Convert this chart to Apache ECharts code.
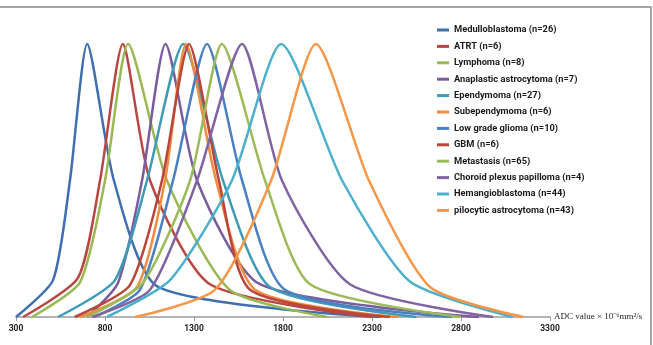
<!DOCTYPE html>
<html><head><meta charset="utf-8">
<script src="https://cdn.jsdelivr.net/npm/echarts@6/dist/echarts.min.js"></script>
<style>html,body{margin:0;padding:0;background:#fff}#c{width:653px;height:345px}</style>
</head><body><div id="c"></div>
<script>
// ADC value, relative height (peak = 1)
const medulloblastoma = [[300,0],[508,0.135],[603,0.5],[700,1],[850,0.5],[1098,0.11],[2350,0]];
const atrt            = [[340,0],[648,0.143],[772,0.5],[900,1],[1053,0.5],[1390,0.12],[2300,0]];
const lymphoma        = [[390,0],[660,0.128],[800,0.5],[930,1],[1148,0.5],[1500,0.1],[2050,0]];
const anaplastic      = [[700,0],[873,0.125],[1008,0.5],[1140,1],[1317,0.5],[1670,0.12],[2900,0]];
const ependymoma      = [[536,0],[856,0.135],[1036,0.5],[1240,1],[1463,0.5],[1727,0.11],[2550,0]];
const subependymoma   = [[660,0],[980,0.11],[1137,0.5],[1255,1],[1424,0.5],[1643,0.1],[2450,0]];
const lowGradeGlioma  = [[740,0],[997,0.1],[1182,0.5],[1373,1],[1570,0.5],[1811,0.1],[2750,0]];
const gbm             = [[630,0],[940,0.117],[1120,0.5],[1272,1],[1440,0.5],[1615,0.1],[2400,0]];
const metastasis      = [[700,0],[1013,0.125],[1278,0.5],[1457,1],[1699,0.5],[1952,0.12],[2800,0]];
const choroidPlexus   = [[727,0],[1053,0.1],[1317,0.5],[1570,1],[1794,0.5],[2176,0.12],[2980,0]];
const hemangio        = [[811,0],[1165,0.135],[1513,0.5],[1790,1],[2132,0.5],[2513,0.13],[3090,0]];
const pilocytic       = [[969,0],[1418,0.1],[1733,0.5],[1985,1],[2283,0.5],[2626,0.11],[3150,0]];

const names = ['Medulloblastoma (n=26)','ATRT (n=6)','Lymphoma (n=8)','Anaplastic astrocytoma (n=7)',
  'Ependymoma (n=27)','Subependymoma (n=6)','Low grade glioma (n=10)','GBM (n=6)','Metastasis (n=65)',
  'Choroid plexus papilloma (n=4)','Hemangioblastoma (n=44)','pilocytic astrocytoma (n=43)'];
const datasets = [medulloblastoma, atrt, lymphoma, anaplastic, ependymoma, subependymoma,
  lowGradeGlioma, gbm, metastasis, choroidPlexus, hemangio, pilocytic];
const colors = ['#3f6fae','#b84744','#98b954','#7a5c9e','#3f9ab5','#f08c3e','#4a80c2','#b9463a',
  '#9bbb59','#8064a2','#4bb0cc','#f79646'];

const chart = echarts.init(document.getElementById('c'));
chart.setOption({
  animation: false,
  grid: {left: 16, right: 103, top: 44, bottom: 28, containLabel: false},
  xAxis: {
    type: 'value', min: 300, max: 3300, interval: 500,
    axisLine: {show: true, lineStyle: {color: '#9a9a9a', width: 1.5}},
    axisTick: {show: true, length: 4, lineStyle: {color: '#9a9a9a', width: 1}},
    splitLine: {show: false},
    axisLabel: {color: '#222', fontSize: 8.5, fontWeight: 'bold', fontFamily: 'Roboto', margin: 7,
      formatter: v => String(v)},
    name: 'ADC value × 10⁻⁶mm²/s', nameLocation: 'end', nameGap: 4,
    nameTextStyle: {color: '#222', fontSize: 9, fontFamily: 'Liberation Serif', align: 'left', verticalAlign: 'middle'}
  },
  yAxis: {type: 'value', min: 0, max: 1, show: false},
  legend: {
    orient: 'vertical', left: 432, top: 19, itemWidth: 12, itemHeight: 3, icon: 'rect', itemGap: 4.4,
    textStyle: {color: '#1a1a1a', fontSize: 9.3, lineHeight: 12, fontWeight: 'bold', fontFamily: 'Roboto'},
    data: names
  },
  graphic: [{type: 'rect', shape: {x: -2, y: 7, width: 653, height: 342},
    style: {fill: 'none', stroke: '#8a8a8a', lineWidth: 1.5}, silent: true}],
  series: datasets.map((d, i) => ({
    name: names[i], type: 'line', data: d, smooth: 0.22, symbol: 'none',
    lineStyle: {width: 2.5, color: colors[i]}, itemStyle: {color: colors[i]}
  }))
});
</script></body></html>
